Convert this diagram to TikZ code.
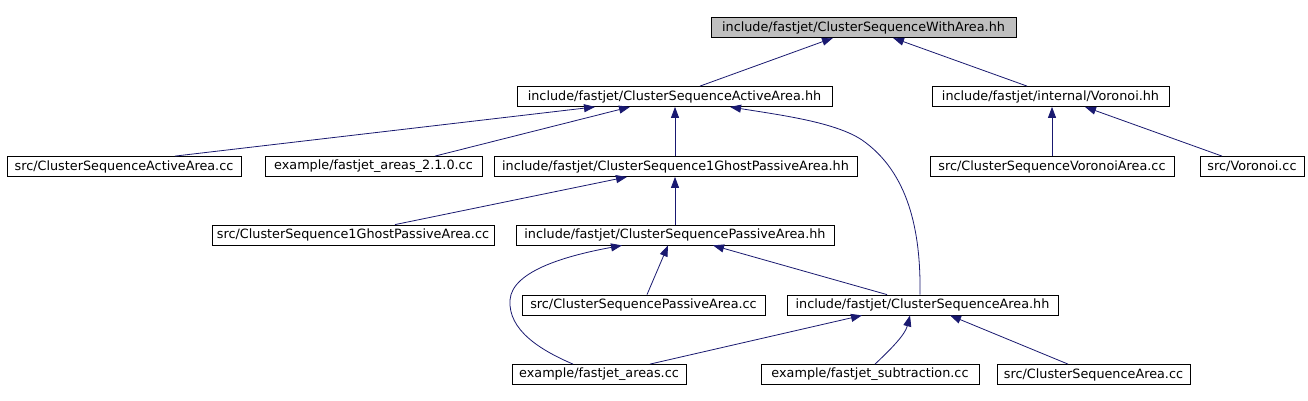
\documentclass[tikz,border=0pt]{standalone}
\usepackage{fontspec}
\setmainfont{DejaVu Sans}
\usetikzlibrary{arrows.meta}
\definecolor{edgecol}{HTML}{191970}
\definecolor{rootfill}{HTML}{BFBFBF}
\tikzset{
  filebox/.style={draw=black, line width=0.8pt, inner sep=0pt, minimum height=20pt,
    font=\fontsize{12.8}{14}\selectfont, text=black, anchor=center},
  dep/.style={draw=edgecol, line width=0.8pt, -{Triangle[length=11pt,width=8pt]}, edgecol}
}
\begin{document}
\begin{tikzpicture}[x=1pt,y=-1pt]
\useasboundingbox[fill=white] (0,0) rectangle (1308,401);
% row 0
\node[filebox, fill=rootfill, minimum width=305pt] (B1) at (863.5,27.5) {include/fastjet/ClusterSequenceWithArea.hh};
% row 1
\node[filebox, minimum width=315pt] (B2) at (674.5,96.5) {include/fastjet/ClusterSequenceActiveArea.hh};
\node[filebox, minimum width=237pt] (B3) at (1050.5,96.5) {include/fastjet/internal/Voronoi.hh};
% row 2
\node[filebox, minimum width=234pt] (B4) at (124,166.5) {src/ClusterSequenceActiveArea.cc};
\node[filebox, minimum width=217pt] (B5) at (373.5,166.5) {example/fastjet\_areas\_2.1.0.cc};
\node[filebox, minimum width=363pt] (B6) at (675.5,166.5) {include/fastjet/ClusterSequence1GhostPassiveArea.hh};
\node[filebox, minimum width=244pt] (B7) at (1052,166.5) {src/ClusterSequenceVoronoiArea.cc};
\node[filebox, minimum width=104pt] (B8) at (1252,166.5) {src/Voronoi.cc};
% row 3
\node[filebox, minimum width=282pt] (B9) at (353,235) {src/ClusterSequence1GhostPassiveArea.cc};
\node[filebox, minimum width=318pt] (B10) at (675,235) {include/fastjet/ClusterSequencePassiveArea.hh};
% row 4
\node[filebox, minimum width=243pt] (B11) at (643.5,305) {src/ClusterSequencePassiveArea.cc};
\node[filebox, minimum width=271pt] (B12) at (922.5,305) {include/fastjet/ClusterSequenceArea.hh};
% row 5
\node[filebox, minimum width=174pt] (B13) at (599,374.5) {example/fastjet\_areas.cc};
\node[filebox, minimum width=218pt] (B14) at (870,374.5) {example/fastjet\_subtraction.cc};
\node[filebox, minimum width=193pt] (B15) at (1093.5,374.5) {src/ClusterSequenceArea.cc};

% edges (child -> parent)
\draw[dep] ([xshift=25.5pt]B2.north) -- ([xshift=-30.5pt]B1.south);
\draw[dep] ([xshift=-23.5pt]B3.north) -- ([xshift=29.5pt]B1.south);
\draw[dep] ([xshift=51pt]B4.north) -- ([xshift=-79.5pt]B2.south);
\draw[dep] ([xshift=61.5pt]B5.north) -- ([xshift=-44.5pt]B2.south);
\draw[dep] ([xshift=-0.5pt]B6.north) -- ([xshift=0.5pt]B2.south);
\draw[dep] ([xshift=-2.5pt]B12.north) .. controls (921,230) and (908,172) .. (862,140)
   .. controls (835,122) and (780,115) .. ([xshift=55.5pt]B2.south);
\draw[dep] (B7.north) -- ([xshift=1.5pt]B3.south);
\draw[dep] ([xshift=-30pt]B8.north) -- ([xshift=34.5pt]B3.south);
\draw[dep] ([xshift=42pt]B9.north) -- ([xshift=-48.5pt]B6.south);
\draw[dep] (B10.north) -- ([xshift=-0.5pt]B6.south);
\draw[dep] ([xshift=3.5pt]B11.north) -- ([xshift=-7pt]B10.south);
\draw[dep] ([xshift=-35.5pt]B12.north) -- ([xshift=38pt]B10.south);
\draw[dep] ([xshift=-26pt]B13.north) .. controls (540,350) and (508,330) .. (510,300)
   .. controls (512,270) and (570,255) .. ([xshift=-53pt]B10.south);
\draw[dep] ([xshift=51pt]B13.north) -- ([xshift=-60.5pt]B12.south);
\draw[dep] ([xshift=5pt]B14.north) .. controls (890,350) and (905,335) .. ([xshift=-12.5pt]B12.south);
\draw[dep] ([xshift=-25.5pt]B15.north) -- ([xshift=27.5pt]B12.south);
\end{tikzpicture}
\end{document}
